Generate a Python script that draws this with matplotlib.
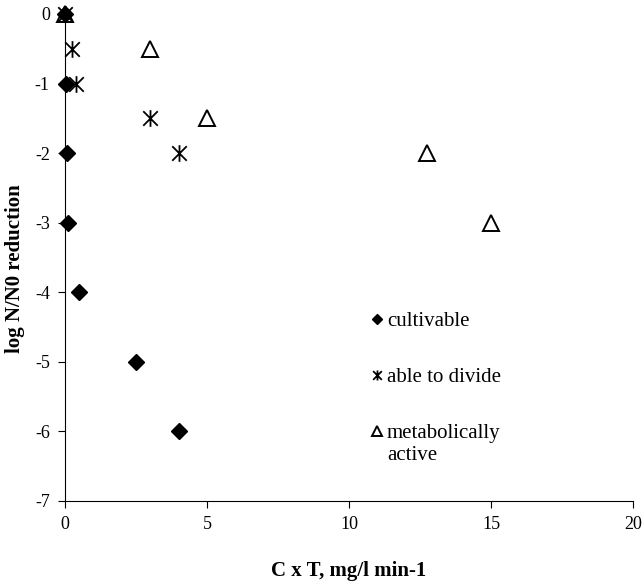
import numpy as np
import matplotlib
matplotlib.use('Agg')
import matplotlib.pyplot as plt
from matplotlib.path import Path

plt.rcParams['font.family'] = ['Liberation Serif', 'DejaVu Serif']
plt.rcParams['axes.unicode_minus'] = False

# cultivable
cult_x = [0, 0.05, 0.07, 0.1, 0.5, 2.5, 4.0]
cult_y = [0, -1, -2, -3, -4, -5, -6]
# able to divide
div_x = [0, 0.25, 0.4, 3.0, 4.0]
div_y = [0, -0.5, -1, -1.5, -2]
# metabolically active
met_x = [0, 3.0, 5.0, 12.75, 15.0]
met_y = [0, -0.5, -1.5, -2, -3]

labels = ['cultivable', 'able to divide', 'metabolically\nactive']

# excel style star: X with a vertical bar
star = Path([(-1, -1), (1, 1), (-1, 1), (1, -1), (0, -1.15), (0, 1.15)],
            [Path.MOVETO, Path.LINETO, Path.MOVETO, Path.LINETO, Path.MOVETO, Path.LINETO])

fig = plt.figure(figsize=(6.44, 5.82), dpi=100)
ax = fig.add_axes([0.101, 0.1392, 0.882, 0.8368])

ax.plot(cult_x, cult_y, linestyle='none', marker='D', markersize=8.5,
        color='black', label=labels[0], clip_on=False, zorder=3)
ax.plot(div_x, div_y, linestyle='none', marker=star, markersize=12,
        color='black', markeredgewidth=1.3, label=labels[1], clip_on=False, zorder=3)
ax.plot(met_x, met_y, linestyle='none', marker='^', markersize=11,
        markerfacecolor='none', markeredgecolor='black', markeredgewidth=1.4,
        label=labels[2], clip_on=False, zorder=3)

ax.set_xlim(0, 20)
ax.set_ylim(-7, 0)
ax.set_xticks([0, 5, 10, 15, 20])
ax.set_yticks(np.arange(-7, 1, 1))
ax.spines['top'].set_visible(False)
ax.spines['right'].set_visible(False)
ax.tick_params(direction='out', length=5, labelsize=13, pad=6)

ax.set_xlabel('C x T, mg/l min-1', fontsize=15, fontweight='bold', labelpad=20)
ax.set_ylabel('log N/N0 reduction', fontsize=15, fontweight='bold')
ax.yaxis.set_label_coords(-0.070, 0.477)

leg = ax.legend(loc='upper left', bbox_to_anchor=(0.521, 0.41), frameon=False,
                fontsize=15, markerscale=0.6, handlelength=0.5,
                handletextpad=0.25, labelspacing=1.75, borderpad=0)
# keep the marker level with the first line of the two-line label
leg._legend_handle_box.get_children()[0].get_children()[2].align = 'top'

fig.savefig('out.png', dpi=100)
